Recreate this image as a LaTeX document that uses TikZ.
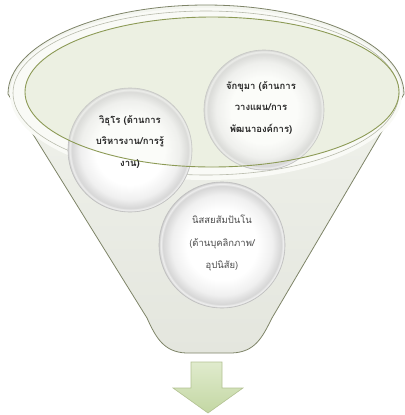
\documentclass[tikz,border=0pt]{standalone}
\usepackage{fontspec}
\newfontfamily\thaifont[Script=Thai]{Loma}
\definecolor{rimline}{HTML}{7E8468}
\definecolor{bodytop}{HTML}{F3F5EF}
\definecolor{bodybot}{HTML}{E4E6DE}
\definecolor{rimfill}{HTML}{F9FAF6}
\definecolor{innerfill}{HTML}{ECF0E2}
\definecolor{greenline}{HTML}{8C9A55}
\definecolor{arrowtop}{HTML}{E0EBCD}
\definecolor{arrowbot}{HTML}{C3D7A3}
\definecolor{arrowline}{HTML}{B3C293}
\pgfdeclareradialshading{ballshade}{\pgfpoint{0bp}{0bp}}{%
  color(0bp)=(white); color(14bp)=(white); color(20bp)=(black!6);
  color(23.5bp)=(black!16); color(24.3bp)=(black!6); color(25bp)=(black!20); color(50bp)=(black!20)}
\begin{document}
\begin{tikzpicture}[x=1bp,y=-1bp,
  ball/.style={circle, draw=black!25, line width=0.6bp, shading=ballshade,
    minimum size=#1, inner sep=0pt},
  balltext/.style={align=center, font=\thaifont\bfseries\fontsize{9.5}{21.5}\selectfont, text=black!85},
  balltextlight/.style={align=center, font=\thaifont\fontsize{9.5}{23}\selectfont, text=black!70},
  funnel/.style={draw=rimline, line width=0.8bp, top color=bodytop, bottom color=bodybot},
  arrowshape/.style={draw=arrowline, line width=0.6bp, top color=arrowtop, bottom color=arrowbot}
]
\useasboundingbox (0,0) rectangle (405,415);
% funnel body
\path[funnel] (8,94) arc[start angle=180, end angle=360, x radius=198, y radius=89]
  -- (272,318) .. controls (262,338) and (255,352) .. (232,353)
  -- (186,353) .. controls (164,352) and (156,338) .. (147,318) -- cycle;
% rim of the mouth
\fill[rimfill] (206,94) ellipse[x radius=196, y radius=86];
\draw[rimline!55, line width=0.6bp] (206,93) ellipse[x radius=193, y radius=82];
\fill[innerfill] (212,92) ellipse[x radius=187, y radius=75];
% circles
\node[ball=124bp] (c1) at (130,150) {};
\node[ball=120bp] (c2) at (264,110) {};
\node[ball=126bp] (c3) at (222,245) {};
% mouth line over the circles
\draw[greenline, line width=0.9bp, fill=innerfill, fill opacity=0.2] (212,92) ellipse[x radius=187, y radius=75];
% texts
\node[balltext] (t1) at (130,142) {วิธุโร (ด้านการ\\บริหารงาน/การรู้\\งาน)};
\node[balltext] (t2) at (261,108) {จักขุมา (ด้านการ\\วางแผน/การ\\พัฒนาองค์การ)};
\node[balltextlight] (t3) at (222,243) {นิสสยสัมปันโน\\(ด้านบุคลิกภาพ/\\อุปนิสัย)};
% arrow
\path[arrowshape] (191,362) -- (222,362) -- (222,388) -- (243,388) -- (208,413)
  -- (173,388) -- (191,388) -- cycle;
\end{tikzpicture}
\end{document}
